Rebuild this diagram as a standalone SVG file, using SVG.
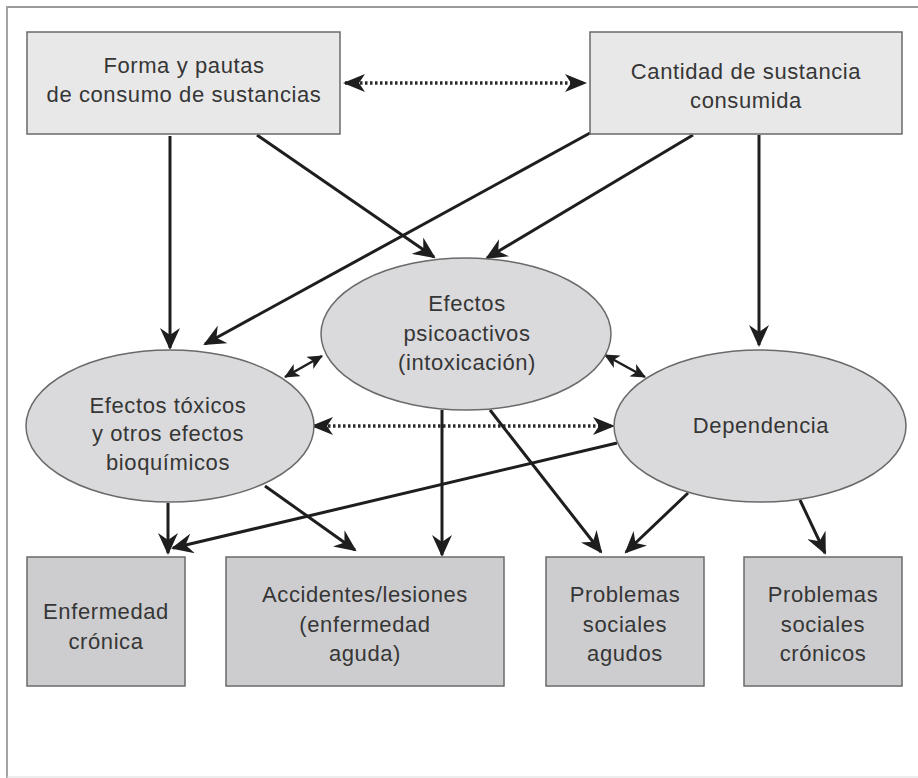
<svg xmlns="http://www.w3.org/2000/svg" width="918" height="778" viewBox="0 0 918 778">
  <defs>
    <style>
      .box1 { fill: #e8e8e9; stroke: #6a6a6a; stroke-width: 1.5; }
      .ell { fill: #dadadc; stroke: #6a6a6a; stroke-width: 1.5; }
      .box2 { fill: #cdcdcf; stroke: #6a6a6a; stroke-width: 1.5; }
      text { font-family: "Liberation Sans", Arial, sans-serif; font-size: 22px; fill: #363636; text-anchor: middle; letter-spacing: 0.6px; }
      .arr { fill: none; stroke: #1e1e1e; stroke-width: 3; marker-end: url(#ah); }
      .dbl { fill: none; stroke: #1e1e1e; stroke-width: 2.5; marker-start: url(#ahs); marker-end: url(#ahs); }
      .dot { fill: none; stroke: #2a2a2a; stroke-width: 3.5; stroke-dasharray: 2.5 2.5; marker-start: url(#ahd); marker-end: url(#ahd); }
    </style>
    <marker id="ah" markerUnits="userSpaceOnUse" markerWidth="24" markerHeight="20" refX="20" refY="10" orient="auto-start-reverse">
      <path d="M0,0 L22,10 L0,20 L7,10 Z" fill="#1e1e1e"/>
    </marker>
    <marker id="ahs" markerUnits="userSpaceOnUse" markerWidth="16" markerHeight="14" refX="14" refY="7" orient="auto-start-reverse">
      <path d="M0,0 L15,7 L0,14 L4,7 Z" fill="#1e1e1e"/>
    </marker>
    <marker id="ahd" markerUnits="userSpaceOnUse" markerWidth="24" markerHeight="18" refX="20" refY="9" orient="auto-start-reverse">
      <path d="M0,0 L22,9 L0,18 L6,9 Z" fill="#1e1e1e"/>
    </marker>
  </defs>

  <g id="frame">
    <path d="M7,778 V7 H918" fill="none" stroke="#9a9a9a" stroke-width="1.8"/>
    <path d="M7,777 H918" fill="none" stroke="#dcdcdc" stroke-width="1.2"/>
  </g>

  <g id="connectors">
    <path class="arr" d="M170,136 L170,348"/>
    <path class="arr" d="M257,135 L434,257"/>
    <path class="arr" d="M590,133 L205,344"/>
    <path class="arr" d="M693,135 L487,258"/>
    <path class="arr" d="M759,135 L759,345"/>
    <path class="dbl" d="M285,377 L322,356"/>
    <path class="dbl" d="M605,355 L645,377"/>
    <path class="dot" d="M313,426 L613,426"/>
    <path class="arr" d="M168,503 L168,553"/>
    <path class="arr" d="M265,486 L355,550"/>
    <path class="arr" d="M442,410 L442,555"/>
    <path class="arr" d="M617,443 L173,548"/>
    <path class="arr" d="M490,410 L601,552"/>
    <path class="arr" d="M688,493 L626,552"/>
    <path class="arr" d="M800,500 L825,553"/>
    <path class="dot" d="M345,83 L585,83"/>
  </g>

  <g id="forma">
    <rect class="box1" x="27" y="32" width="313" height="102"/>
    <text x="184" y="73">Forma y pautas</text>
    <text x="184" y="102">de consumo de sustancias</text>
  </g>

  <g id="cantidad">
    <rect class="box1" x="590" y="32" width="312" height="102"/>
    <text x="746" y="79">Cantidad de sustancia</text>
    <text x="746" y="108">consumida</text>
  </g>

  <g id="psicoactivos">
    <ellipse class="ell" cx="466" cy="334" rx="145" ry="76"/>
    <text x="467" y="311">Efectos</text>
    <text x="467" y="341">psicoactivos</text>
    <text x="467" y="370">(intoxicación)</text>
  </g>

  <g id="toxicos">
    <ellipse class="ell" cx="170" cy="426" rx="144" ry="76"/>
    <text x="168" y="413">Efectos tóxicos</text>
    <text x="168" y="441">y otros efectos</text>
    <text x="168" y="470">bioquímicos</text>
  </g>

  <g id="dependencia">
    <ellipse class="ell" cx="760" cy="426" rx="146" ry="76"/>
    <text x="761" y="433">Dependencia</text>
  </g>

  <g id="enfermedad">
    <rect class="box2" x="27" y="557" width="158" height="129"/>
    <text x="106" y="619">Enfermedad</text>
    <text x="106" y="649">crónica</text>
  </g>

  <g id="accidentes">
    <rect class="box2" x="226" y="557" width="278" height="129"/>
    <text x="365" y="602">Accidentes/lesiones</text>
    <text x="365" y="632">(enfermedad</text>
    <text x="365" y="661">aguda)</text>
  </g>

  <g id="agudos">
    <rect class="box2" x="546" y="557" width="158" height="129"/>
    <text x="625" y="602">Problemas</text>
    <text x="625" y="632">sociales</text>
    <text x="625" y="661">agudos</text>
  </g>

  <g id="cronicos">
    <rect class="box2" x="744" y="557" width="158" height="129"/>
    <text x="823" y="602">Problemas</text>
    <text x="823" y="632">sociales</text>
    <text x="823" y="661">crónicos</text>
  </g>
</svg>
